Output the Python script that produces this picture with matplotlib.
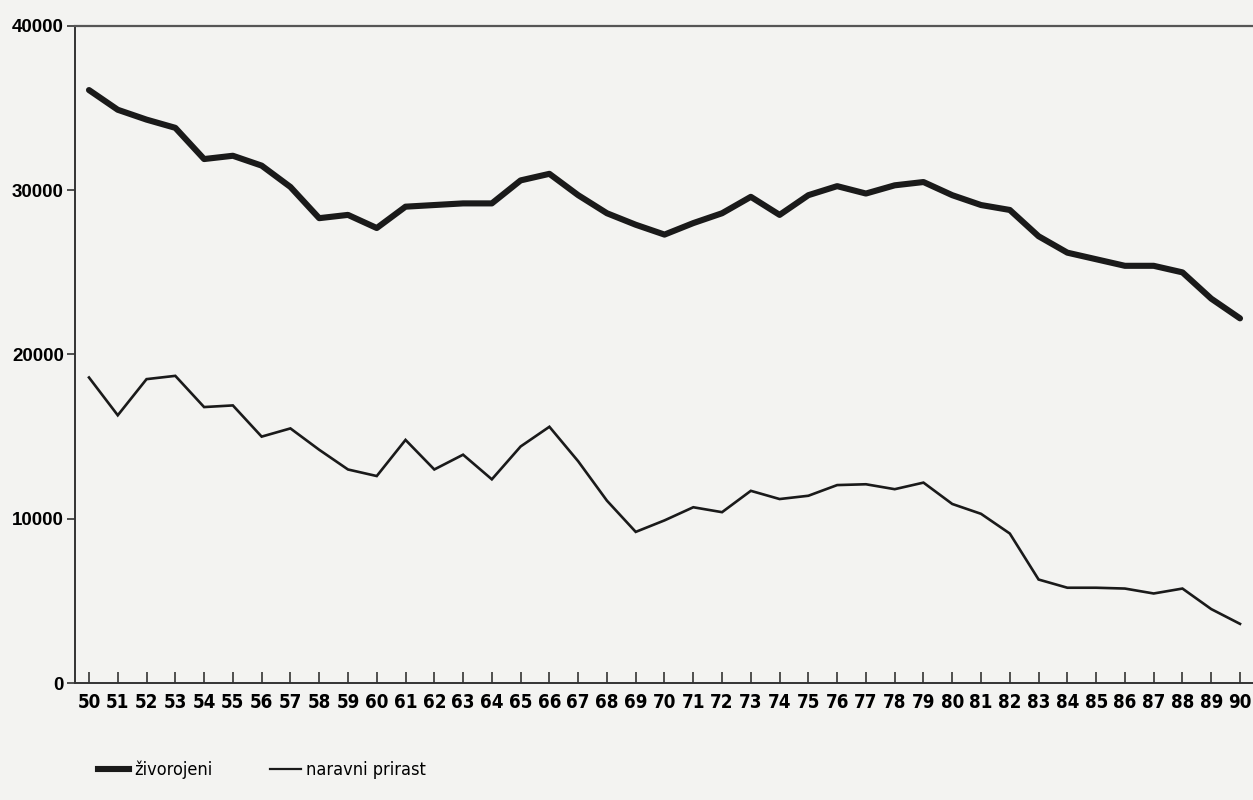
import numpy as np
import matplotlib
matplotlib.use("Agg")
import matplotlib.pyplot as plt
from matplotlib.lines import Line2D

# years 1950..1990, shown as 50..90
years = list(range(50, 91))

zivorojeni = [36100, 34900, 34300, 33800, 31900, 32100, 31500, 30200, 28300, 28500,
              27700, 29000, 29100, 29200, 29200, 30600, 31000, 29700, 28600, 27900,
              27300, 28000, 28600, 29600, 28500, 29700, 30250, 29800, 30300, 30500,
              29700, 29100, 28800, 27200, 26200, 25800, 25400, 25400, 25000, 23400,
              22200]

naravni_prirast = [18600, 16300, 18500, 18700, 16800, 16900, 15000, 15500, 14200, 13000,
                   12600, 14800, 13000, 13900, 12400, 14400, 15600, 13500, 11100, 9200,
                   9900, 10700, 10400, 11700, 11200, 11400, 12050, 12100, 11800, 12200,
                   10900, 10300, 9100, 6300, 5800, 5800, 5750, 5450, 5750, 4500,
                   3600]

y_ticks = [0, 10000, 20000, 30000, 40000]

plt.rcParams['font.family'] = ['DejaVu Sans']
plt.rcParams['font.stretch'] = 'condensed'

bg = '#f3f3f1'
ink = '#1a1a1a'

fig = plt.figure(figsize=(12.53, 8), dpi=100, facecolor=bg)
ax = fig.add_axes([75/1253, 1 - 683/800, 1 - 75/1253, (683 - 26)/800])
ax.set_facecolor(bg)

ax.plot(years, zivorojeni, color=ink, lw=4.4, solid_joinstyle='round', solid_capstyle='round')
ax.plot(years, naravni_prirast, color=ink, lw=1.9, solid_joinstyle='miter')

ax.set_xlim(50 - 14/28.8, 90 + 13/28.8)
ax.set_ylim(0, 40000)

# spines
for s in ['left', 'bottom']:
    ax.spines[s].set_color('#333333')
    ax.spines[s].set_linewidth(1.4)
ax.spines['right'].set_visible(False)
ax.spines['top'].set_color('#555555')
ax.spines['top'].set_linewidth(1.6)

ax.set_yticks(y_ticks)
ax.set_yticklabels([str(v) for v in y_ticks], fontsize=13.5, fontweight='bold',
                   family=['Liberation Sans', 'DejaVu Sans'], fontstretch='normal')
ax.tick_params(axis='y', direction='out', length=6, width=1.2, color='#333333', pad=2)

ax.set_xticks(years)
ax.set_xticklabels([str(y) for y in years], fontsize=13.5, fontweight='bold')
ax.tick_params(axis='x', direction='in', length=8, width=1.2, color='#333333', pad=7)

# legend under the axis
handles = [Line2D([], [], color=ink, lw=4.4), Line2D([], [], color=ink, lw=1.6)]
fig.legend(handles, ['živorojeni', 'naravni prirast'], loc='lower left',
           bbox_to_anchor=(82/1253, 0.006), ncol=2, frameon=False, fontsize=13,
           handlelength=1.7, columnspacing=3.2, handletextpad=0.3)

fig.savefig('out.png', dpi=100, facecolor=bg)
